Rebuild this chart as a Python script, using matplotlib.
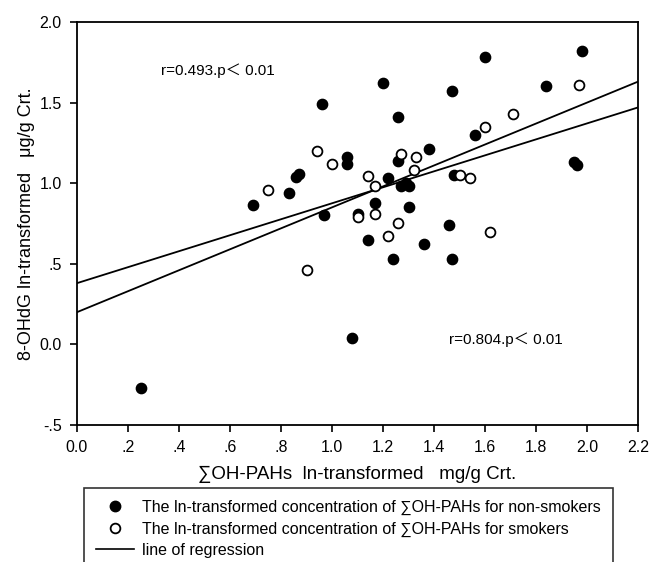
import matplotlib
matplotlib.use("Agg")
import matplotlib.pyplot as plt
from matplotlib.lines import Line2D

plt.rcParams['font.family'] = ['Liberation Sans', 'DejaVu Sans', 'Noto Sans CJK SC']

# non-smokers (filled)
ns_x = [0.25, 0.69, 0.83, 0.86, 0.87, 0.96, 0.97, 1.06, 1.06, 1.08, 1.10, 1.14,
        1.17, 1.20, 1.22, 1.24, 1.26, 1.26, 1.27, 1.29, 1.30, 1.30, 1.36, 1.38,
        1.46, 1.47, 1.47, 1.48, 1.56, 1.60, 1.84, 1.95, 1.96, 1.98]
ns_y = [-0.27, 0.865, 0.94, 1.04, 1.06, 1.49, 0.80, 1.16, 1.12, 0.04, 0.81, 0.65,
        0.88, 1.62, 1.03, 0.53, 1.41, 1.14, 0.98, 1.00, 0.98, 0.85, 0.62, 1.21,
        0.74, 1.57, 0.53, 1.05, 1.30, 1.78, 1.60, 1.13, 1.11, 1.82]

# smokers (open)
sm_x = [0.75, 0.90, 0.94, 1.00, 1.10, 1.14, 1.17, 1.17, 1.22, 1.26, 1.27, 1.32,
        1.33, 1.50, 1.54, 1.60, 1.62, 1.71, 1.97]
sm_y = [0.96, 0.46, 1.20, 1.12, 0.79, 1.045, 0.98, 0.81, 0.67, 0.75, 1.18, 1.08,
        1.16, 1.05, 1.03, 1.35, 0.70, 1.43, 1.61]

# regression lines (end points)
reg_x = [0.0, 2.2]
reg1_y = [0.38, 1.47]
reg2_y = [0.20, 1.63]

xticks = [0.0, 0.2, 0.4, 0.6, 0.8, 1.0, 1.2, 1.4, 1.6, 1.8, 2.0, 2.2]
xticklabels = ['0.0', '.2', '.4', '.6', '.8', '1.0', '1.2', '1.4', '1.6', '1.8', '2.0', '2.2']
yticks = [-0.5, 0.0, 0.5, 1.0, 1.5, 2.0]
yticklabels = ['-.5', '0.0', '.5', '1.0', '1.5', '2.0']

fig = plt.figure(figsize=(6.49, 5.62), dpi=100)
ax = fig.add_axes([77/649, 1-425/562, 561/649, 403/562])

ax.plot(reg_x, reg1_y, color='black', lw=1.3, zorder=2)
ax.plot(reg_x, reg2_y, color='black', lw=1.3, zorder=2)
ax.scatter(ns_x, ns_y, s=55, c='black', edgecolors='black', zorder=3)
ax.scatter(sm_x, sm_y, s=50, c='white', edgecolors='black', linewidths=1.3, zorder=4)

ax.set_xlim(0, 2.2)
ax.set_ylim(-0.5, 2.0)
ax.set_xticks(xticks)
ax.set_xticklabels(xticklabels)
ax.set_yticks(yticks)
ax.set_yticklabels(yticklabels)
ax.tick_params(direction='out', length=5, width=1.2, labelsize=11.5, pad=6)
for sp in ax.spines.values():
    sp.set_linewidth(1.3)

ax.set_xlabel('\u2211OH-PAHs  ln-transformed   mg/g Crt.', fontsize=13.5, labelpad=8)
ax.set_ylabel('8-OHdG ln-transformed   \u03bcg/g Crt.', fontsize=13, labelpad=3)

ax.text(0.328, 1.70, 'r=0.493.p\uff1c 0.01', fontsize=11, va='center', ha='left')
ax.text(1.459, 0.032, 'r=0.804.p\uff1c 0.01', fontsize=11, va='center', ha='left')

handles = [
    Line2D([], [], marker='o', ls='none', color='black', markersize=7.5),
    Line2D([], [], marker='o', ls='none', markerfacecolor='white', markeredgecolor='black',
           markeredgewidth=1.3, markersize=7),
    Line2D([], [], color='black', lw=1.2),
]
labels = [
    'The ln-transformed concentration of \u2211OH-PAHs for non-smokers',
    'The ln-transformed concentration of \u2211OH-PAHs for smokers',
    'line of regression',
]
leg = fig.legend(handles, labels, loc='upper left',
                 bbox_to_anchor=(84/649, 0, 528.5/649, 1-488/562), mode='expand',
                 fontsize=11.5, frameon=True, fancybox=False, edgecolor='black',
                 borderpad=0.75, labelspacing=0.4, handlelength=2.4, handletextpad=0.5,
                 borderaxespad=0)
leg.get_frame().set_linewidth(1.2)

plt.savefig('out.png', dpi=100)
